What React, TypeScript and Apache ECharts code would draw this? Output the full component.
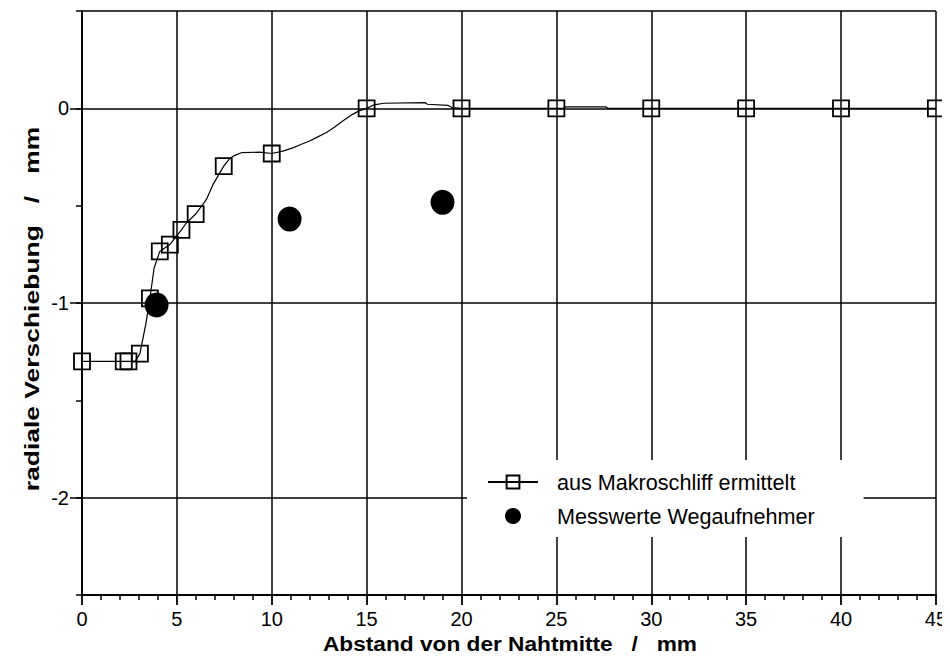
import React, { useEffect, useRef } from "react";
import * as echarts from "echarts";

// Squares: points read from the macro section
const markerX = [0, 2.2, 2.45, 3.05, 3.58, 4.1, 4.63, 5.24, 5.99, 7.47, 10, 15, 20, 25, 30, 35, 40, 45];
const markerY = [-1.3, -1.3, -1.3, -1.26, -0.976, -0.735, -0.7, -0.624, -0.543, -0.297, -0.232, 0, 0, 0, 0, 0, 0, 0];

// Intermediate points of the continuous profile between the squares
const profileX = [2.8, 3.36, 3.8, 5.5, 6.55, 6.9, 7.75, 8.0, 8.4, 9.36, 10.58, 11.11, 11.5, 11.99, 12.4, 12.86, 13.3, 13.74, 14.26, 14.6, 15.4, 15.9, 18.1, 18.2, 19.3, 19.5, 25.4, 25.5, 27.6, 27.7];
const profileY = [-1.3, -1.11, -0.82, -0.589, -0.469, -0.392, -0.262, -0.244, -0.228, -0.225, -0.22, -0.203, -0.187, -0.168, -0.148, -0.125, -0.097, -0.065, -0.031, -0.013, 0.018, 0.026, 0.029, 0.021, 0.015, 0.004, 0, 0.008, 0.008, 0];

// Displacement transducer readings
const messX = [3.93, 10.94, 19.0];
const messY = [-1.01, -0.569, -0.483];

const xTicks = [0, 5, 10, 15, 20, 25, 30, 35, 40, 45];
const yLabelValues = [0, -1, -2];

const xTitle = "Abstand von der Nahtmitte   /   mm";
const yTitle = "radiale Verschiebung   /   mm";

const FONT = "'Liberation Sans', Arial, 'DejaVu Sans', sans-serif";

export default function App() {
  const ref = useRef<HTMLDivElement>(null);

  useEffect(() => {
    if (!ref.current) return;
    const chart = echarts.init(ref.current, null, { renderer: "svg" });

    const pts: { x: number; y: number; marker: boolean }[] = [];
    markerX.forEach((x, i) => pts.push({ x, y: markerY[i], marker: true }));
    profileX.forEach((x, i) => pts.push({ x, y: profileY[i], marker: false }));
    pts.sort((a, b) => a.x - b.x);
    const lineData = pts.map((p) =>
      p.marker ? { value: [p.x, p.y] } : { value: [p.x, p.y], symbol: "none" }
    );

    const yBase = {
      type: "value",
      min: -2.5,
      max: 0.5,
      interval: 0.5,
    };

    chart.setOption({
      animation: false,
      backgroundColor: "#fff",
      textStyle: { fontFamily: FONT, color: "#000" },
      grid: { left: 82, right: 11, top: 11, bottom: 65, containLabel: false },
      xAxis: {
        type: "value",
        min: xTicks[0],
        max: xTicks[xTicks.length - 1],
        interval: 5,
        axisLine: { show: true, onZero: false, lineStyle: { color: "#000", width: 1.8 } },
        axisTick: { show: true, length: 10, lineStyle: { color: "#000", width: 1.8 } },
        minorTick: { show: true, splitNumber: 5, length: 5, lineStyle: { color: "#000", width: 1.5 } },
        axisLabel: { color: "#000", fontSize: 20, fontFamily: FONT, margin: 14 },
        splitLine: { show: true, lineStyle: { color: "#000", width: 1.5 } },
      },
      yAxis: [
        {
          ...yBase,
          axisLine: { show: true, onZero: false, lineStyle: { color: "#000", width: 1.8 } },
          axisTick: { show: true, length: 6, lineStyle: { color: "#000", width: 1.5 } },
          axisLabel: {
            color: "#000",
            fontSize: 20,
            fontFamily: FONT,
            margin: 13,
            formatter: (v: number) => (yLabelValues.indexOf(v) >= 0 ? String(v) : ""),
          },
          splitLine: {
            show: true,
            lineStyle: {
              // one colour per tick from -2.5 to 0.5: grid at whole numbers and at the top edge
              color: ["#000", "#000", "transparent", "#000", "transparent", "#000", "#000"],
              width: 1.5,
            },
          },
        },
        {
          // longer ticks at the labelled values
          ...yBase,
          position: "left",
          axisLine: { show: false, onZero: false },
          axisTick: { show: true, length: 12, customValues: yLabelValues, lineStyle: { color: "#000", width: 1.5 } },
          axisLabel: { show: false },
          splitLine: { show: false },
        },
      ],
      legend: {
        orient: "vertical",
        left: 467,
        top: 460,
        backgroundColor: "#fff",
        padding: [11, 49, 10, 20],
        itemWidth: 50,
        itemHeight: 16,
        itemGap: 12,
        textStyle: { fontFamily: FONT, fontSize: 21.6, color: "#000", padding: [0, 0, 0, 14] },
        data: ["aus Makroschliff ermittelt", "Messwerte Wegaufnehmer"],
      },
      graphic: [
        {
          type: "text",
          x: 510,
          y: 644,
          scaleX: 1.08,
          style: {
            text: xTitle,
            font: `bold 21px ${FONT}`,
            fill: "#000",
            align: "center",
            verticalAlign: "middle",
          },
        },
        {
          type: "text",
          x: 32,
          y: 309,
          rotation: Math.PI / 2,
          scaleX: 1.26,
          style: {
            text: yTitle,
            font: `bold 21px ${FONT}`,
            fill: "#000",
            align: "center",
            verticalAlign: "middle",
          },
        },
      ],
      series: [
        {
          name: "aus Makroschliff ermittelt",
          type: "line",
          data: lineData,
          symbol: "rect",
          symbolSize: 16,
          showSymbol: true,
          smooth: false,
          lineStyle: { color: "#000", width: 1.2 },
          itemStyle: { color: "transparent", borderColor: "#000", borderWidth: 1.8 },
          z: 3,
        },
        {
          name: "Messwerte Wegaufnehmer",
          type: "scatter",
          data: messX.map((x, i) => [x, messY[i]]),
          symbol: "circle",
          symbolSize: [24, 25],
          itemStyle: { color: "#000", opacity: 1 },
          z: 4,
        },
      ],
    });

    return () => chart.dispose();
  }, []);

  return <div ref={ref} style={{ width: 950, height: 660, margin: -8 }} />;
}
